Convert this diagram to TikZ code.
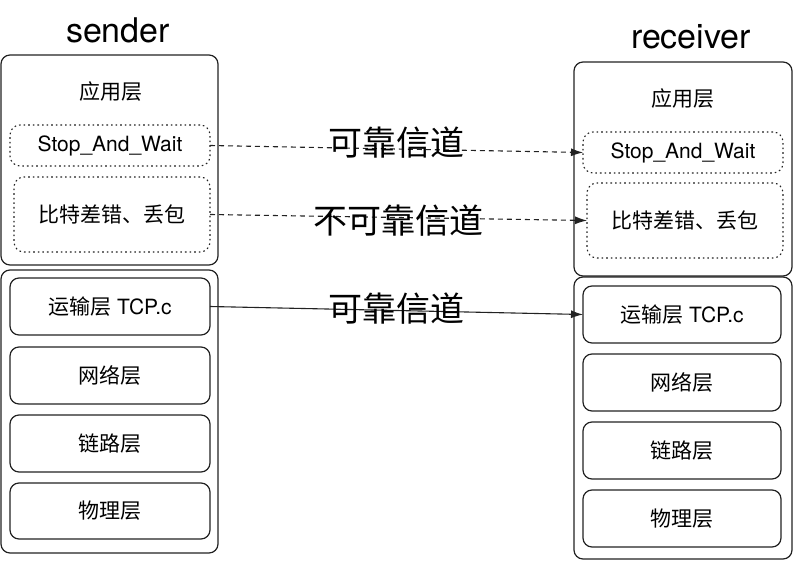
\documentclass[tikz,border=0pt]{standalone}
\usepackage{fontspec}
\setmainfont{TeX Gyre Heros}
\newfontfamily\cjk{Noto Sans CJK SC}
\usetikzlibrary{arrows.meta}
\definecolor{ln}{HTML}{222222}
\tikzset{
  box/.style={draw=ln, rounded corners=9pt, line width=1.2pt, inner sep=0pt, outer sep=0pt},
  layer/.style={box, font=\fontsize{21}{24}\selectfont},
  dotbox/.style={draw=ln, rounded corners=10pt, line width=1.1pt, dash pattern=on 1.6pt off 3pt, inner sep=0pt, outer sep=0pt},
  lbl/.style={font=\fontsize{21}{24}\selectfont, inner sep=0pt},
  title/.style={font=\fontsize{34}{38}\selectfont, inner sep=0pt},
  chan/.style={font=\fontsize{34}{38}\selectfont\cjk, inner sep=0pt},
  conn/.style={draw=ln, line width=1.1pt, -{Latex[length=12pt,width=8pt]}},
  dconn/.style={conn, dash pattern=on 5pt off 4pt}
}
\begin{document}
\begin{tikzpicture}[x=1pt,y=-1pt]
\useasboundingbox (0,0) rectangle (793,561);
% titles
\node[title] (snd) at (118,30) {sender};
\node[title] (rcv) at (691,37) {receiver};
% sender
\node[box, minimum width=217pt, minimum height=210pt] (sapp) at (109.5,160) {};
\node[lbl] (sapptxt) at (111,92) {\cjk 应用层};
\node[dotbox, minimum width=200pt, minimum height=41pt, label={[lbl]center:Stop\_And\_Wait}] (ssw) at (110,145.5) {};
\node[dotbox, minimum width=196pt, minimum height=75pt, label={[lbl]center:{\cjk 比特差错、丢包}}] (sbit) at (112,214.5) {};
\node[box, minimum width=217pt, minimum height=283pt] (slow) at (109.5,411.5) {};
\node[layer, minimum width=200pt, minimum height=57pt] (stcp) at (110,306.5) {{\cjk 运输层} TCP.c};
\node[layer, minimum width=200pt, minimum height=57pt] (snet) at (110,375.5) {\cjk 网络层};
\node[layer, minimum width=200pt, minimum height=57pt] (slink) at (110,443.5) {\cjk 链路层};
\node[layer, minimum width=200pt, minimum height=56pt] (sphy) at (110,511) {\cjk 物理层};
% receiver
\node[box, minimum width=218pt, minimum height=214pt] (rapp) at (683,169) {};
\node[lbl] (rapptxt) at (683,99) {\cjk 应用层};
\node[dotbox, minimum width=200pt, minimum height=41pt, label={[lbl]center:Stop\_And\_Wait}] (rsw) at (683,152.5) {};
\node[dotbox, minimum width=196pt, minimum height=75pt, label={[lbl]center:{\cjk 比特差错、丢包}}] (rbit) at (685,220.5) {};
\node[box, minimum width=218pt, minimum height=282pt] (rlow) at (683,418) {};
\node[layer, minimum width=198pt, minimum height=57pt] (rtcp) at (682,314.5) {{\cjk 运输层} TCP.c};
\node[layer, minimum width=198pt, minimum height=57pt] (rnet) at (682,382.5) {\cjk 网络层};
\node[layer, minimum width=198pt, minimum height=57pt] (rlink) at (682,450.5) {\cjk 链路层};
\node[layer, minimum width=198pt, minimum height=57pt] (rphy) at (682,518.5) {\cjk 物理层};
% connectors
\draw[dconn] (ssw.east) -- (rsw.west) node[chan, midway, yshift=6pt] (c1) {可靠信道};
\draw[dconn] (sbit.east) -- (rbit.west) node[chan, midway, yshift=-3pt] (c2) {不可靠信道};
\draw[conn] (stcp.east) -- (rtcp.west) node[chan, midway, yshift=2pt] (c3) {可靠信道};
\end{tikzpicture}
\end{document}
